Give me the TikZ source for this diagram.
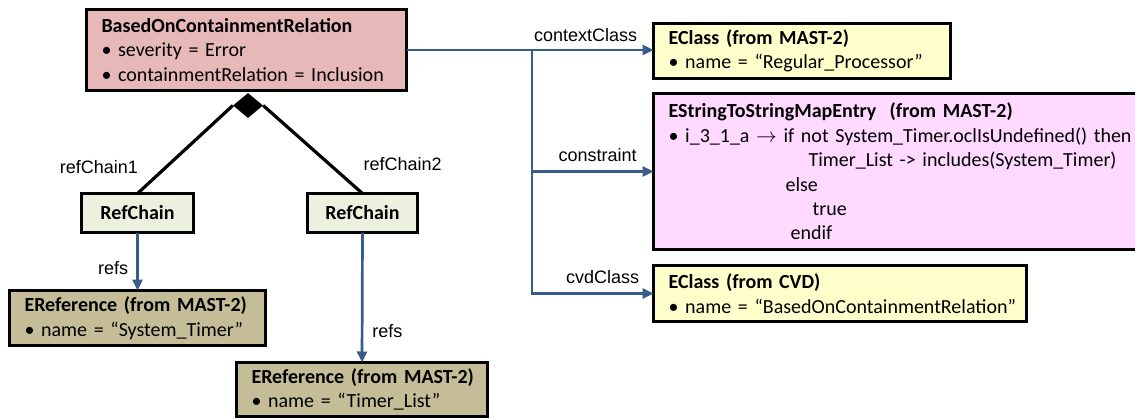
\documentclass[tikz,border=0pt]{standalone}
\usepackage{fontspec}
\usetikzlibrary{arrows.meta,shapes.geometric}
\newfontfamily\boxfont{Carlito}
\newfontfamily\lblfont{Liberation Sans}
\definecolor{ruleclr}{RGB}{230,185,184}
\definecolor{chainclr}{RGB}{235,241,222}
\definecolor{refclr}{RGB}{196,189,151}
\definecolor{classclr}{RGB}{255,255,204}
\definecolor{mapclr}{RGB}{255,217,255}
\definecolor{linkblue}{RGB}{56,93,138}
\newcommand{\boxline}[1]{\mbox{#1}}

\begin{document}
\begin{tikzpicture}[x=1pt,y=-1pt,
    umlbox/.style={draw,line width=3.2pt,align=left,inner xsep=15pt,inner ysep=0pt,outer sep=0pt,
                   font=\boxfont\fontsize{20}{24.4}\selectfont},
    lbl/.style={font=\lblfont\fontsize{18}{20}\selectfont,inner sep=2pt},
    link/.style={draw=linkblue,line width=2.7pt,-{Triangle[length=11pt,width=10pt]}},
    part/.style={draw=black,line width=3.2pt}]
  \useasboundingbox (0,0) rectangle (1135,418);

  % rule and its reference chains
  \node[umlbox,fill=ruleclr,text width=290pt,minimum height=81pt] (rule) at (246.5,50)
    {\boxline{\textbf{BasedOnContainmentRelation}}\\\boxline{• severity = Error}\\\boxline{• containmentRelation = Inclusion}};
  \node[diamond,fill=black,inner sep=0pt,minimum width=30pt,minimum height=25pt] (agg) at (248,105.5) {};
  \node[umlbox,fill=chainclr,align=center,inner xsep=0pt,minimum width=112pt,minimum height=39pt] (rc1) at (137.5,213) {\textbf{RefChain}};
  \node[umlbox,fill=chainclr,align=center,inner xsep=0pt,minimum width=110pt,minimum height=39pt] (rc2) at (362.5,213) {\textbf{RefChain}};
  \node[umlbox,fill=refclr,text width=226pt,minimum height=55pt] (ref1) at (137.5,318)
    {\boxline{\textbf{EReference (from MAST-2)}}\\\boxline{• name = “System\_Timer”}};
  \node[umlbox,fill=refclr,text width=221pt,minimum height=54pt] (ref2) at (362,389.5)
    {\boxline{\textbf{EReference (from MAST-2)}}\\\boxline{• name = “Timer\_List”}};

  % targets on the right
  \node[umlbox,fill=classclr,text width=266.8pt,minimum height=54.8pt] (ctx) at (802,51)
    {\boxline{\textbf{EClass (from MAST-2)}}\\\boxline{• name = “Regular\_Processor”}};
  \node[umlbox,fill=mapclr,text width=456.4pt,minimum height=155.8pt] (map) at (896.8,171.5)
    {\boxline{\textbf{EStringToStringMapEntry\ \ (from MAST-2)}}\\
     \boxline{• i\_3\_1\_a $\rightarrow$ if not System\_Timer.oclIsUndefined() then}\\
     \boxline{\hspace*{140pt}Timer\_List -> includes(System\_Timer)}\\
     \boxline{\hspace*{117pt}else}\\
     \boxline{\hspace*{144pt}true}\\
     \boxline{\hspace*{122pt}endif}};
  \node[umlbox,fill=classclr,text width=342.8pt,minimum height=55.8pt] (cvd) at (840,293.5)
    {\boxline{\textbf{EClass (from CVD)}}\\\boxline{• name = “BasedOnContainmentRelation”}};

  \coordinate (junc) at (532,50);

  \draw[part] (rc1.north) -- node[lbl,at start,anchor=south east,xshift=4pt,yshift=16pt] {refChain1} (agg.west);
  \draw[part] (rc2.north) -- node[lbl,at start,anchor=south west,xshift=-2.5pt,yshift=19pt] {refChain2} (agg.east);

  \draw[link] (rc1.south) -- node[lbl,pos=.62,left=6pt] {refs} (ref1.north);
  \draw[link] (rc2.south) -- node[lbl,pos=.76,right=7pt] {refs} (ref2.north);

  \draw[link] (rule.east) -- node[lbl,pos=.725,above=5pt] {contextClass} (ctx.west |- junc);
  \draw[link] (junc) |- node[lbl,pos=.77,above=6pt] {constraint} (map.west);
  \draw[link] (junc) |- node[lbl,pos=.79,above=6pt] {cvdClass} (cvd.west);
\end{tikzpicture}
\end{document}
